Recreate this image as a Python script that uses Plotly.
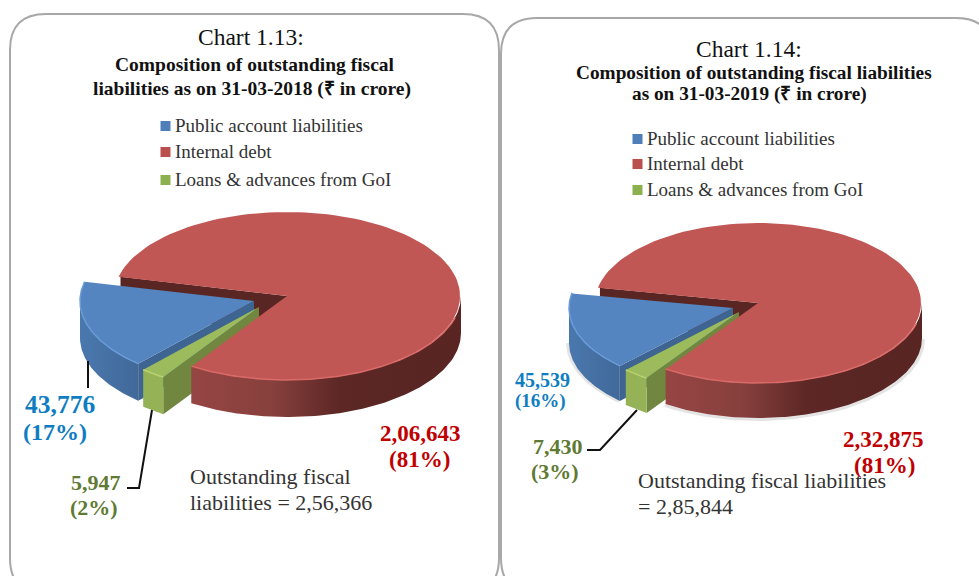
import numpy as np
import plotly.graph_objects as go

# ---- data -------------------------------------------------------------
categories = ["Public account liabilities", "Internal debt", "Loans & advances from GoI"]
values_2018 = [43776, 206643, 5947]
values_2019 = [45539, 232875, 7430]
pct_2018 = ["(17%)", "(81%)", "(2%)"]
pct_2019 = ["(16%)", "(81%)", "(3%)"]
value_labels_2018 = ["43,776", "2,06,643", "5,947"]
value_labels_2019 = ["45,539", "2,32,875", "7,430"]
total_2018 = "2,56,366"
total_2019 = "2,85,844"

SERIF = "Liberation Serif"
BLUE, RED, GREEN = "#5585c0", "#c15755", "#9cbb5c"
W, H = 979, 576


def pt(c, a, b, deg):
    t = np.radians(deg)
    return c[0] + a * np.cos(t), c[1] - b * np.sin(t)


def arc(c, a, b, d0, d1, n=120):
    t = np.radians(np.linspace(d0, d1, n))
    return c[0] + a * np.cos(t), c[1] - b * np.sin(t)


def poly(fig, x, y, color=None, grad=None):
    kw = dict(fillgradient=dict(type="horizontal", colorscale=grad)) if grad else dict(fillcolor=color)
    fig.add_trace(go.Scatter(x=list(x), y=list(y), mode="lines", fill="toself",
                             line=dict(width=0, color="rgba(0,0,0,0)"),
                             hoverinfo="skip", showlegend=False, **kw))


def line(fig, x, y, color, width):
    fig.add_trace(go.Scatter(x=list(x), y=list(y), mode="lines",
                             line=dict(color=color, width=width),
                             hoverinfo="skip", showlegend=False))


def sector(c, a, b, d0, d1):
    x, y = arc(c, a, b, d0, d1)
    return np.r_[c[0], x, c[0]], np.r_[c[1], y, c[1]]


def wall(c, a, b, d0, d1, depth):
    x, y = arc(c, a, b, d0, d1)
    return np.r_[x, x[::-1], x[0]], np.r_[y, y[::-1] + depth, y[0]]


def draw_pie(fig, vals, c_red, c_blue, c_green, a, b, depth, start, halo=False):
    blue, red, green = vals
    total = sum(vals)
    # slices run clockwise from `start`; angles kept in (start, start+360)
    red_end = start - red / total * 360 + 360
    green_end = red_end - green / total * 360
    blue_end = green_end - blue / total * 360

    if halo:
        x, y = arc(c_red, a + 1, b, 360, red_end)
        line(fig, x, y + depth + 1, "rgba(90,90,90,0.16)", 4)
        x, y = arc(c_blue, a + 1, b, 180, green_end)
        line(fig, x, y + depth, "rgba(90,90,90,0.16)", 4)

    # inner wall of the internal-debt slice, seen through the gap
    sx, sy = pt(c_red, a - 3, b, start)
    poly(fig, [c_red[0], sx, sx, c_red[0], c_red[0]],
         [c_red[1], sy, sy + depth, c_red[1] + depth, c_red[1]], "#5a2624")

    # public account slice
    x, y = wall(c_blue, a, b, 180, green_end, depth)
    poly(fig, x, y, grad=[[0, "#4a78ae"], [1, "#41699a"]])
    ex, ey = pt(c_blue, a, b, green_end)
    poly(fig, [c_blue[0], ex, ex, c_blue[0], c_blue[0]],
         [c_blue[1], ey, ey + depth, c_blue[1] + depth, c_blue[1]], "#3e6491")
    x, y = sector(c_blue, a, b, blue_end, green_end)
    poly(fig, x, y, BLUE)
    x, y = arc(c_blue, a, b, blue_end, green_end)
    line(fig, x, y, "#6b9bd6", 1.5)

    # loans slice
    p0 = pt(c_green, a, b, red_end)
    poly(fig, [p0[0], c_green[0], c_green[0], p0[0], p0[0]],
         [p0[1], c_green[1], c_green[1] + depth, p0[1] + depth, p0[1]], "#71863f")
    x, y = wall(c_green, a, b, green_end, red_end, depth)
    poly(fig, x, y, "#95b257")
    x, y = sector(c_green, a, b, green_end, red_end)
    poly(fig, x, y, GREEN)
    x, y = arc(c_green, a, b, green_end, red_end, 20)
    line(fig, x, y, "#b8d272", 1.5)

    # internal debt slice
    x, y = wall(c_red, a, b, red_end, 360, depth)
    poly(fig, x, y, grad=[[0, "#964543"], [0.3, "#87403d"], [0.55, "#5c2725"], [1, "#582523"]])
    x, y = sector(c_red, a - 1, b, red_end - 360, start)
    poly(fig, x, y, RED)
    x, y = arc(c_red, a, b, red_end, 345)
    line(fig, x, y, "#d96a67", 1.5)


def panel(x0, y0, x1, y1, r=36):
    return (f"M {x0+r},{y0} L {x1-r},{y0} Q {x1},{y0} {x1},{y0+r} L {x1},{y1-r} "
            f"Q {x1},{y1} {x1-r},{y1} L {x0+r},{y1} Q {x0},{y1} {x0},{y1-r} "
            f"L {x0},{y0+r} Q {x0},{y0} {x0+r},{y0} Z")


fig = go.Figure()

# pies
draw_pie(fig, values_2018, (287, 296), (254, 301), (259, 307), 174, 84, 37, 166.8)
draw_pie(fig, values_2019, (758, 303), (733, 308), (739, 312), 164, 80, 35, 169, halo=True)

# leader lines
line(fig, [88, 88], [361, 388], "#111111", 2)
line(fig, [152, 139, 127], [410, 488, 488], "#111111", 2)
line(fig, [637, 600, 587], [410, 450, 450], "#111111", 2)

# legend rows
for xm, xt, ys in ((165.5, 175, [126, 152, 180]), (637.5, 647, [139, 164, 190])):
    fig.add_trace(go.Scatter(
        x=[xm] * 3, y=ys, mode="markers",
        marker=dict(symbol="square", size=10, color=["#4f7fb8", "#bb4f4d", "#8cb04e"]),
        text=categories, hoverinfo="text", showlegend=False))
    fig.add_trace(go.Scatter(
        x=[xt] * 3, y=[v + 1 for v in ys], mode="text", text=categories,
        textposition="middle right",
        textfont=dict(family=SERIF, size=19, color="#333333"),
        hoverinfo="skip", showlegend=False))

BLUE_T, RED_T, OLIVE_T = "#0f7dc2", "#c00000", "#5f7a32"


def note(x, y, text, size, color="#111111", bold=False, anchor="center"):
    fig.add_annotation(x=x, y=y, xref="x", yref="y", text=f"<b>{text}</b>" if bold else text,
                       showarrow=False, xanchor=anchor, yanchor="middle",
                       font=dict(family=SERIF, size=size, color=color))


# chart 1 text
note(251, 37, "Chart 1.13:", 23.5)
note(255, 64, "Composition of outstanding fiscal", 19.5, bold=True)
note(252, 89, "liabilities as on 31-03-2018 (₹ in crore)", 19.5, bold=True)
note(60, 404, value_labels_2018[0], 25.5, BLUE_T, True)
note(55, 432, pct_2018[0], 24, BLUE_T, True)
note(96, 482, value_labels_2018[2], 22, OLIVE_T, True)
note(94, 507, pct_2018[2], 22, OLIVE_T, True)
note(420, 433, value_labels_2018[1], 23, RED_T, True)
note(419, 459, pct_2018[1], 23, RED_T, True)
note(188, 476, "Outstanding fiscal", 22, "#333333", anchor="left")
note(188, 502, f"liabilities = {total_2018}", 22, "#333333", anchor="left")

# chart 2 text
note(749, 49, "Chart 1.14:", 23.5)
note(754, 72, "Composition of outstanding fiscal liabilities", 19.3, bold=True)
note(749, 94, "as on 31-03-2019 (₹ in crore)", 19.3, bold=True)
note(542, 380, value_labels_2019[0], 20, BLUE_T, True)
note(540, 401, pct_2019[0], 19, BLUE_T, True)
note(558, 446, value_labels_2019[2], 22, OLIVE_T, True)
note(555, 471, pct_2019[2], 22, OLIVE_T, True)
note(883, 439, value_labels_2019[1], 23, RED_T, True)
note(884, 465, pct_2019[1], 23, RED_T, True)
note(636, 480, "Outstanding fiscal liabilities", 22, "#333333", anchor="left")
note(636, 506, f"= {total_2019}", 22, "#333333", anchor="left")

fig.update_layout(
    width=W, height=H, margin=dict(l=0, r=0, t=0, b=0),
    paper_bgcolor="white", plot_bgcolor="white", showlegend=False,
    xaxis=dict(range=[0, W], visible=False, fixedrange=True),
    yaxis=dict(range=[H, 0], visible=False, fixedrange=True),
    shapes=[
        dict(type="path", path=panel(10, 14, 499, 594), xref="x", yref="y",
             line=dict(color="#a8a8a8", width=2), layer="below"),
        dict(type="path", path=panel(501, 18, 992, 594), xref="x", yref="y",
             line=dict(color="#a8a8a8", width=2), layer="below"),
    ],
)
fig.write_html("out.html", config=dict(displayModeBar=False),
               post_script="document.body.style.margin='0';document.documentElement.style.overflow='hidden';")
